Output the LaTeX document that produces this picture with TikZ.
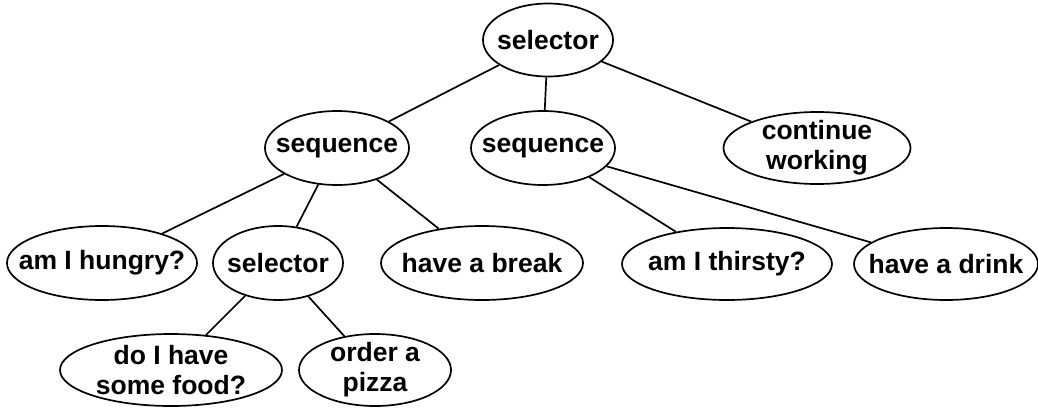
\documentclass[tikz,border=0pt]{standalone}
\usepackage{fontspec}
\setmainfont{Liberation Sans}
\usetikzlibrary{shapes.geometric}
\begin{document}
\begin{tikzpicture}[x=1pt,y=-1pt,
  bt/.style={ellipse,draw,line width=1.7pt,inner sep=0pt},
  txt/.style={align=center,inner sep=0pt,
    font=\fontsize{26.5}{30}\selectfont\bfseries},
  link/.style={line width=1.7pt}]
\useasboundingbox (0,0) rectangle (1038,407);
% root and its children
\node[bt,minimum width=130pt,minimum height=73pt,label={[txt]center:selector}] (root) at (548,40) {};
\node[bt,minimum width=144pt,minimum height=74pt,label={[txt]center:sequence}] (seqA) at (337,148) {};
\node[bt,minimum width=144pt,minimum height=74pt,label={[txt]center:sequence}] (seqB) at (543,148) {};
\node[bt,minimum width=187pt,minimum height=72pt,label={[txt]center:continue\\working}] (work) at (817,148) {};
% third level
\node[bt,minimum width=190pt,minimum height=74pt,label={[txt]center:am I hungry?}] (hungry) at (102,263) {};
\node[bt,minimum width=130pt,minimum height=74pt,label={[txt]center:selector}] (selB) at (278,263) {};
\node[bt,minimum width=202pt,minimum height=74pt,label={[txt]center:have a break}] (brk) at (482,263) {};
\node[bt,minimum width=210pt,minimum height=72pt,label={[txt]center:am I thirsty?}] (thirsty) at (727,264) {};
\node[bt,minimum width=184pt,minimum height=72pt,label={[txt]center:have a drink}] (drink) at (946,264) {};
% fourth level
\node[bt,minimum width=222pt,minimum height=72pt,label={[txt]center:do I have\\some food?}] (food) at (171,370) {};
\node[bt,minimum width=152pt,minimum height=72pt,label={[txt]center:order a\\pizza}] (pizza) at (375,370) {};
% connections
\draw[link] (root) -- (seqA);
\draw[link] (root) -- (seqB);
\draw[link] (root) -- (work);
\draw[link] (seqA) -- (hungry);
\draw[link] (seqA) -- (selB);
\draw[link] (seqA) -- (brk);
\draw[link] (seqB) -- (thirsty);
\draw[link] (seqB) -- (drink);
\draw[link] (selB) -- (food);
\draw[link] (selB) -- (pizza);
\end{tikzpicture}
\end{document}
